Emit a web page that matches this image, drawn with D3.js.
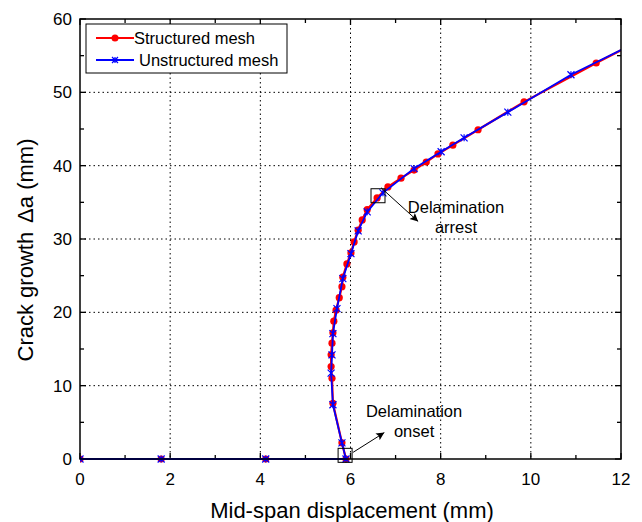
<!DOCTYPE html>
<html><head><meta charset="utf-8">
<script src="https://cdn.jsdelivr.net/npm/d3@7"></script>
<style>body{margin:0;background:#fff;} text{font-family:Arial,"Liberation Sans",sans-serif;}</style>
</head><body>
<svg id="c" width="642" height="522"></svg>
<script>
const structuredX = [0,1.8,4.12,5.9,5.81,5.61,5.59,5.57,5.57,5.59,5.61,5.63,5.68,5.75,5.81,5.83,5.92,6.01,6.08,6.17,6.26,6.37,6.59,6.83,7.12,7.41,7.68,7.94,8.27,8.83,9.85,11.45,12.5];
const structuredY = [0,0,0,0,2.2,7.6,11.0,12.6,14.2,15.8,17.2,18.8,20.3,22.0,23.5,24.8,26.6,28.1,29.6,31.2,32.6,34.0,35.6,37.1,38.3,39.4,40.5,41.6,42.8,44.9,48.7,54.0,57.3];
const unstructuredX = [0,1.8,4.12,5.9,5.81,5.61,5.57,5.59,5.61,5.70,5.83,6.01,6.17,6.37,6.72,7.41,8.01,8.52,9.49,10.89,12.5];
const unstructuredY = [0,0,0,0,2.2,7.4,11.7,14.2,17.1,20.5,24.6,28.0,31.1,33.7,36.3,39.6,41.9,43.8,47.3,52.4,57.3];
const xTicks = [0,2,4,6,8,10,12];
const yTicks = [0,10,20,30,40,50,60];
const seriesNames = ["Structured mesh","Unstructured mesh"];
const annotX = [5.88, 6.61];
const annotY = [0.5, 35.9];
const annotText = [["Delamination","onset"],["Delamination","arrest"]];
const annotTextX = [7.41, 8.34];
const annotTextY = [5.75, 33.6];

const svg = d3.select("#c");
const m = {l:80, r:621, t:19, b:459};
const x = d3.scaleLinear().domain([0,12]).range([m.l,m.r]);
const y = d3.scaleLinear().domain([0,60]).range([m.b,m.t]);

// grid
const g = svg.append("g");
g.selectAll(".gx").data(xTicks.filter(d=>d>0&&d<12)).enter().append("line")
 .attr("x1",d=>x(d)).attr("x2",d=>x(d)).attr("y1",m.t).attr("y2",m.b)
 .attr("stroke","#000").attr("stroke-width",1).attr("stroke-dasharray","1.5,3");
g.selectAll(".gy").data(yTicks.filter(d=>d>0&&d<60)).enter().append("line")
 .attr("y1",d=>y(d)).attr("y2",d=>y(d)).attr("x1",m.l).attr("x2",m.r)
 .attr("stroke","#000").attr("stroke-width",1).attr("stroke-dasharray","1.5,3");

// ticks (inside) on all four sides
const xMinor = d3.range(1,12,2), yMinor = d3.range(5,60,10);
function tickSet(vals, len){
  vals.forEach(v=>{
    g.append("line").attr("x1",x(v)).attr("x2",x(v)).attr("y1",m.b).attr("y2",m.b-len).attr("stroke","#000").attr("stroke-width",1.3);
    g.append("line").attr("x1",x(v)).attr("x2",x(v)).attr("y1",m.t).attr("y2",m.t+len).attr("stroke","#000").attr("stroke-width",1.3);
  });
}
function tickSetY(vals, len){
  vals.forEach(v=>{
    g.append("line").attr("y1",y(v)).attr("y2",y(v)).attr("x1",m.l).attr("x2",m.l+len).attr("stroke","#000").attr("stroke-width",1.3);
    g.append("line").attr("y1",y(v)).attr("y2",y(v)).attr("x1",m.r).attr("x2",m.r-len).attr("stroke","#000").attr("stroke-width",1.3);
  });
}
tickSet(xTicks,6); tickSet(xMinor,4); tickSetY(yTicks,6); tickSetY(yMinor,4);

// tick labels
svg.selectAll(".xl").data(xTicks).enter().append("text")
 .attr("x",d=>x(d)).attr("y",m.b+26).attr("text-anchor","middle").attr("font-size",17).text(d=>d);
svg.selectAll(".yl").data(yTicks).enter().append("text")
 .attr("x",m.l-8).attr("y",d=>y(d)+6).attr("text-anchor","end").attr("font-size",17).text(d=>d);

// axis titles
svg.append("text").attr("x",352).attr("y",518).attr("text-anchor","middle").attr("font-size",22).text("Mid-span displacement (mm)");
const yt = svg.append("text").attr("transform",`translate(33,250) rotate(-90)`).attr("text-anchor","middle").attr("font-size",22);
yt.append("tspan").text("Crack growth");
yt.append("tspan").attr("dx",9).text("\u0394a (mm)");

// clip
svg.append("clipPath").attr("id","clip").append("rect").attr("x",m.l).attr("y",m.t-5).attr("width",m.r-m.l).attr("height",m.b-m.t+10);
const plot = svg.append("g").attr("clip-path","url(#clip)");

const sData = structuredX.map((v,i)=>[v,structuredY[i]]);
const uData = unstructuredX.map((v,i)=>[v,unstructuredY[i]]);
const line = d3.line().x(d=>x(d[0])).y(d=>y(d[1]));

plot.append("path").datum(sData).attr("d",line).attr("fill","none").attr("stroke","#ff0000").attr("stroke-width",2.2);
plot.selectAll(".sm").data(sData).enter().append("circle").attr("cx",d=>x(d[0])).attr("cy",d=>y(d[1])).attr("r",3.6).attr("fill","#ff0000");
plot.append("path").datum(uData).attr("d",line).attr("fill","none").attr("stroke","#0000ff").attr("stroke-width",1.8);
function star(sel, cx, cy, s){
  const p = `M${cx-s},${cy-s}L${cx+s},${cy+s}M${cx-s},${cy+s}L${cx+s},${cy-s}M${cx},${cy-s}L${cx},${cy+s}`;
  sel.append("path").attr("d",p).attr("stroke","#0000ff").attr("stroke-width",1.2).attr("fill","none");
}
uData.forEach(d=>star(plot, x(d[0]), y(d[1]), 3.5));

// frame
svg.append("rect").attr("x",m.l).attr("y",m.t).attr("width",m.r-m.l).attr("height",m.b-m.t).attr("fill","none").attr("stroke","#000").attr("stroke-width",1.5);

// annotations
annotX.forEach((v,i)=>{
  svg.append("rect").attr("x",x(v)-7).attr("y",y(annotY[i])-7).attr("width",14).attr("height",14).attr("fill","none").attr("stroke","#000").attr("stroke-width",1);
});
svg.append("defs").append("marker").attr("id","ah").attr("viewBox","0 0 10 10").attr("refX",10).attr("refY",5)
 .attr("markerWidth",11).attr("markerHeight",8).attr("markerUnits","userSpaceOnUse").attr("orient","auto")
 .append("path").attr("d","M0,0L10,5L0,10L2,5Z").attr("fill","#000");
// onset arrow
svg.append("line").attr("x1",x(annotX[0])+8).attr("y1",y(annotY[0])-3).attr("x2",x(6.75)).attr("y2",y(3.6))
 .attr("stroke","#000").attr("stroke-width",1).attr("marker-end","url(#ah)");
// arrest arrow
svg.append("line").attr("x1",x(annotX[1])+3).attr("y1",y(annotY[1])-8).attr("x2",x(7.5)).attr("y2",y(32.4))
 .attr("stroke","#000").attr("stroke-width",1).attr("marker-end","url(#ah)");
annotText.forEach((t,i)=>{
  t.forEach((s,j)=>{
    svg.append("text").attr("x",x(annotTextX[i])).attr("y",y(annotTextY[i])+j*20).attr("text-anchor","middle").attr("font-size",16.5).text(s);
  });
});

// legend
const lg = svg.append("g");
lg.append("rect").attr("x",86).attr("y",24).attr("width",201).attr("height",49).attr("fill","#fff").attr("stroke","#000").attr("stroke-width",1);
lg.append("line").attr("x1",96).attr("x2",134).attr("y1",38).attr("y2",38).attr("stroke","#ff0000").attr("stroke-width",2);
lg.append("circle").attr("cx",115).attr("cy",38).attr("r",3.5).attr("fill","#ff0000");
lg.append("text").attr("x",134).attr("y",44).attr("font-size",16.5).text(seriesNames[0]);
lg.append("line").attr("x1",96).attr("x2",134).attr("y1",60).attr("y2",60).attr("stroke","#0000ff").attr("stroke-width",2);
star(lg,115,60,3);
lg.append("text").attr("x",139).attr("y",66).attr("font-size",16.5).text(seriesNames[1]);
</script>
</body></html>
